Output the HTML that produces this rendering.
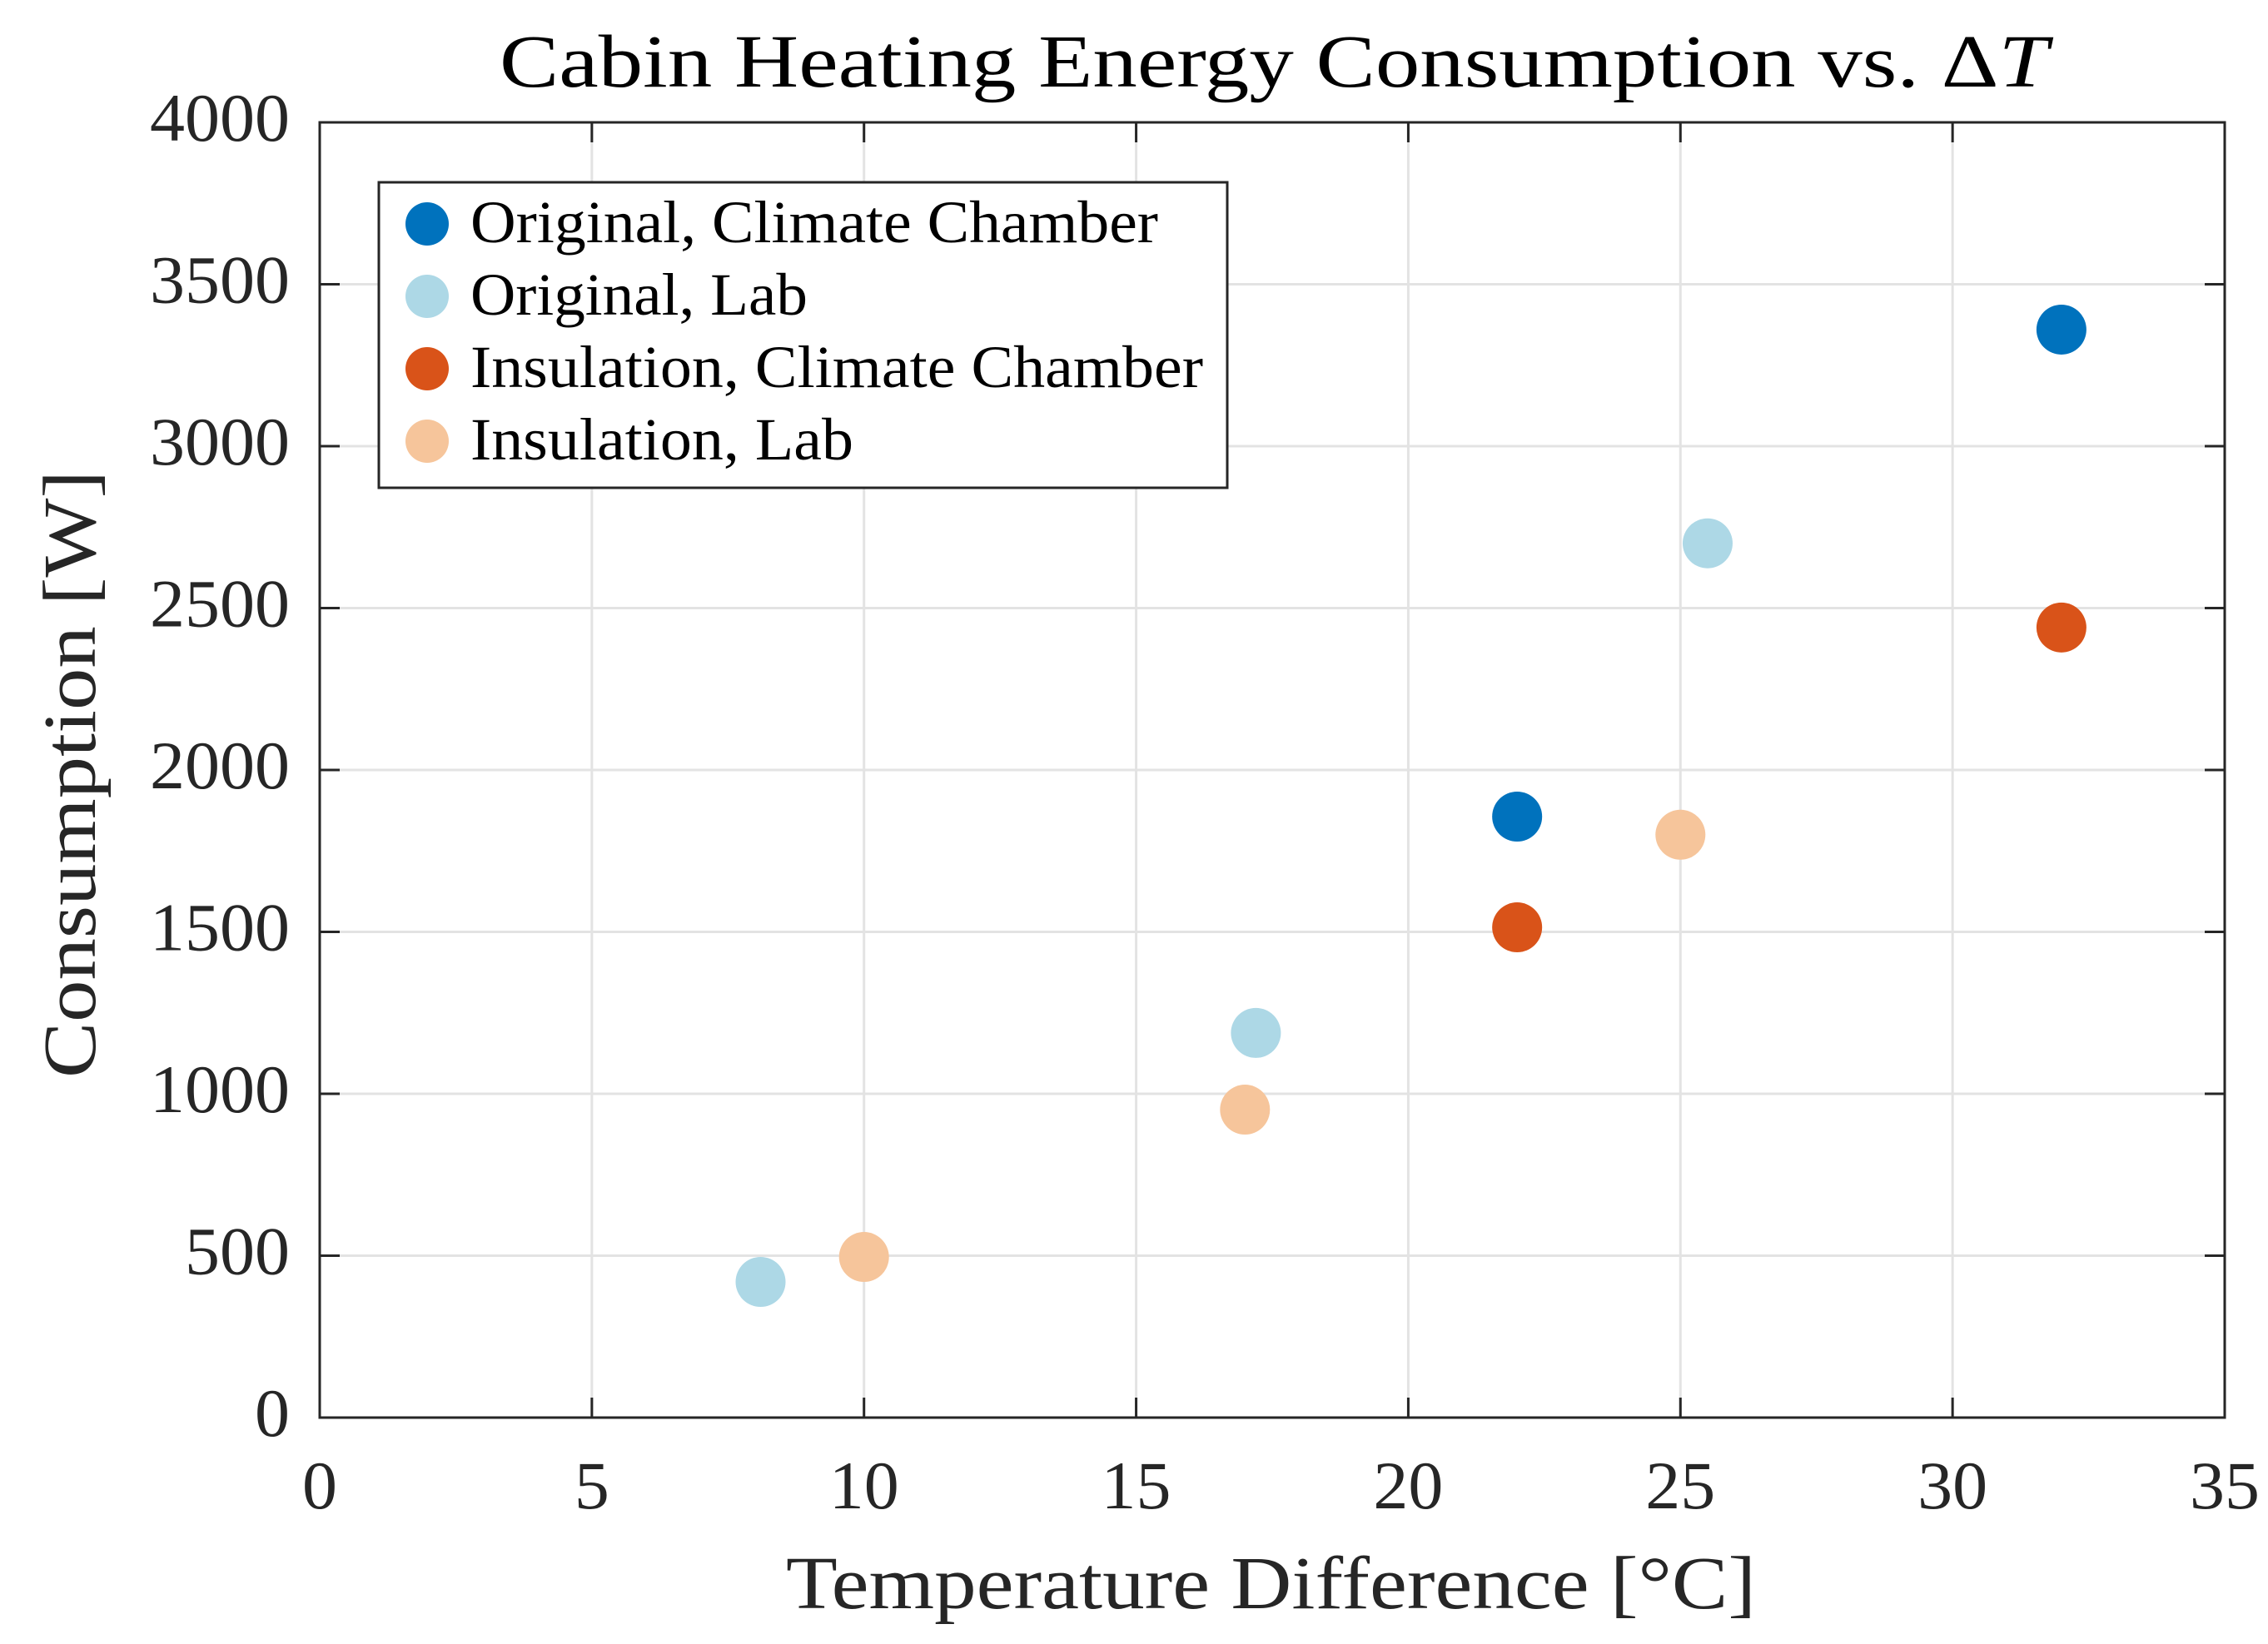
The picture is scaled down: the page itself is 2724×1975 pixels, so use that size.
<!DOCTYPE html>
<html><head><meta charset="utf-8"><style>
html,body{margin:0;padding:0;background:#fff;}
svg{display:block;font-family:"Liberation Serif",serif;}
</style></head><body>
<svg id="chart" width="2724" height="1975" viewBox="0 0 2724 1975" xmlns="http://www.w3.org/2000/svg">
<rect x="0" y="0" width="2724" height="1975" fill="#fff"/>
<g id="grid"></g>
<g id="ticks"></g>
<rect x="384" y="147" width="2288" height="1556" fill="none" stroke="#262626" stroke-width="3"/>
<g id="points"></g>
<text x="600" y="104" font-size="90" textLength="1860" lengthAdjust="spacingAndGlyphs" fill="#000">Cabin Heating Energy Consumption vs. Δ<tspan font-style="italic">T</tspan></text>
<text x="944" y="1932" font-size="90" textLength="1165" lengthAdjust="spacingAndGlyphs" fill="#262626">Temperature Difference [°C]</text>
<text transform="translate(114,1295) rotate(-90)" font-size="90" textLength="730" lengthAdjust="spacingAndGlyphs" fill="#262626">Consumption [W]</text>
<g id="legend">
<rect x="455" y="219" width="1019" height="367" fill="#fff" stroke="#262626" stroke-width="3"/>
</g>
</svg>
<script>
const seriesNames = ["Original, Climate Chamber","Original, Lab","Insulation, Climate Chamber","Insulation, Lab"];
const seriesColors = ["#0072BD","#ADD8E6","#D95319","#F6C59B"];
const origCCx = [22, 32];
const origCCy = [1856, 3360];
const origLabx = [8.1, 17.2, 25.5];
const origLaby = [419, 1188, 2700];
const insCCx = [22, 32];
const insCCy = [1514, 2440];
const insLabx = [10, 17, 25];
const insLaby = [496, 951, 1800];
const xTicks = [0,5,10,15,20,25,30,35];
const yTicks = [0,500,1000,1500,2000,2500,3000,3500,4000];

const NS = "http://www.w3.org/2000/svg";
const L=384,R=2672,T=147,B=1703;
const legendWidths=[826,405,880,460];
function sx(v){return L+(v-0)/(35-0)*(R-L);}
function sy(v){return B-(v-0)/(4000-0)*(B-T);}
function mk(tag,attrs,parent){const e=document.createElementNS(NS,tag);for(const k in attrs)e.setAttribute(k,attrs[k]);parent.appendChild(e);return e;}
const grid=document.getElementById('grid'),ticks=document.getElementById('ticks'),pts=document.getElementById('points'),leg=document.getElementById('legend');
xTicks.forEach(v=>{
  const x=sx(v);
  if(v>0&&v<35){const g=mk('line',{x1:x,x2:x,y1:T,y2:B,stroke:'#e3e3e3','stroke-width':3},grid);
  
  }
  const t1=mk('line',{x1:x,x2:x,y1:B,y2:B-24,stroke:'#262626','stroke-width':3},ticks);
  
  
  const t2=mk('line',{x1:x,x2:x,y1:T,y2:T+24,stroke:'#262626','stroke-width':3},ticks);
  
  
  const s=String(v);
  const lb=mk('text',{x:x-s.length*21,y:1812,'font-size':82,textLength:s.length*42,lengthAdjust:'spacingAndGlyphs',fill:'#262626'},ticks);
  lb.textContent=v;
  
  
});
yTicks.forEach(v=>{
  const y=sy(v);
  if(v>0&&v<4000){const g=mk('line',{x1:L,x2:R,y1:y,y2:y,stroke:'#e3e3e3','stroke-width':3},grid);
  
  }
  const t1=mk('line',{x1:L,x2:L+24,y1:y,y2:y,stroke:'#262626','stroke-width':3},ticks);
  
  
  const t2=mk('line',{x1:R,x2:R-24,y1:y,y2:y,stroke:'#262626','stroke-width':3},ticks);
  
  
  const s=String(v);
  const lb=mk('text',{x:348-s.length*42,y:y+22,'font-size':82,textLength:s.length*42,lengthAdjust:'spacingAndGlyphs',fill:'#262626'},ticks);
  lb.textContent=v;
  
  
});
const allX=[origCCx,origLabx,insCCx,insLabx], allY=[origCCy,origLaby,insCCy,insLaby];
allX.forEach((xs,s)=>{
  xs.forEach((xv,i)=>{
    const c=mk('circle',{cx:sx(xv),cy:sy(allY[s][i]),r:30,fill:seriesColors[s]},pts);
    
    
  });
});
seriesNames.forEach((n,i)=>{
  const y=269+i*87;
  const c=mk('circle',{cx:513,cy:y,r:26,fill:seriesColors[i]},leg);
  
  
  const t=mk('text',{x:565,y:y+22,'font-size':72,textLength:legendWidths[i],lengthAdjust:'spacingAndGlyphs',fill:'#000'},leg);
  t.textContent=n;
  
  
});
</script>
</body></html>
